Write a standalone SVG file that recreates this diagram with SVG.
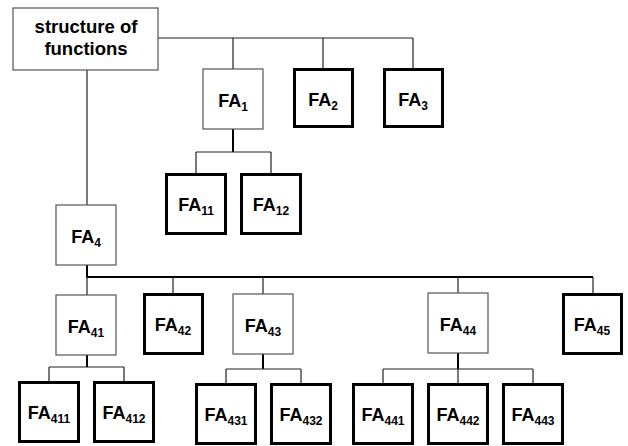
<svg xmlns="http://www.w3.org/2000/svg" width="628" height="446" viewBox="0 0 628 446">
<style>
.thin{fill:#fff;stroke:#555;stroke-width:1.2}
.thick{fill:#fff;stroke:#000;stroke-width:3}
.lbl{font-family:"Liberation Sans",Arial,sans-serif;font-weight:bold;font-size:18px;fill:#000;text-anchor:middle}
.sub{font-size:12px}
.root{font-family:"Liberation Sans",Arial,sans-serif;font-weight:bold;font-size:18.5px;fill:#000;text-anchor:middle}
.c{fill:none;stroke:#222;stroke-width:1.2}
.stem{fill:none;stroke:#000;stroke-width:2}
</style>
<rect width="628" height="446" fill="#fff"/>
<g id="connectors">
<path class="c" d="M158 38H413M233 38V69M323 38V68M413 38V68"/>
<path class="stem" d="M233 129V152"/>
<path class="c" d="M196 152H271M196 152V173M271 152V173"/>
<path class="c" d="M87 70V205"/>
<path class="stem" d="M87 265V277H593"/>
<path class="c" d="M87 277V295M173 277V293M263 277V294M458 277V293M593 277V293"/>
<path class="stem" d="M87 355V367"/>
<path class="c" d="M49 367H124M49 367V381M124 367V381"/>
<path class="stem" d="M263 354V369"/>
<path class="c" d="M226 369H301M226 369V383M301 369V383"/>
<path class="stem" d="M458 353V369"/>
<path class="c" d="M383 369H533M383 369V383M458 369V383M533 369V383"/>
</g>
<g id="root">
<rect class="thin" x="13" y="8" width="145" height="62"/>
<text class="root" x="86" y="33">structure of</text>
<text class="root" x="86" y="55">functions</text>
</g>
<g id="FA1"><rect class="thin" x="203" y="69" width="60" height="60"/><text class="lbl" x="233" y="107">FA<tspan class="sub" dy="4">1</tspan></text></g>
<g id="FA2"><rect class="thick" x="294.5" y="69.5" width="58" height="57"/><text class="lbl" x="323" y="106">FA<tspan class="sub" dy="4">2</tspan></text></g>
<g id="FA3"><rect class="thick" x="384.5" y="69.5" width="58" height="57"/><text class="lbl" x="413" y="106">FA<tspan class="sub" dy="4">3</tspan></text></g>
<g id="FA11"><rect class="thick" x="166.5" y="174.5" width="59" height="59"/><text class="lbl" x="196" y="211">FA<tspan class="sub" dy="4">11</tspan></text></g>
<g id="FA12"><rect class="thick" x="241.5" y="174.5" width="59" height="59"/><text class="lbl" x="271" y="211">FA<tspan class="sub" dy="4">12</tspan></text></g>
<g id="FA4"><rect class="thin" x="56" y="205" width="60" height="60"/><text class="lbl" x="86" y="243">FA<tspan class="sub" dy="4">4</tspan></text></g>
<g id="FA41"><rect class="thin" x="56" y="295" width="60" height="60"/><text class="lbl" x="86" y="333">FA<tspan class="sub" dy="4">41</tspan></text></g>
<g id="FA42"><rect class="thick" x="144.5" y="294.5" width="58" height="59"/><text class="lbl" x="173" y="331">FA<tspan class="sub" dy="4">42</tspan></text></g>
<g id="FA43"><rect class="thin" x="233" y="294" width="60" height="60"/><text class="lbl" x="263" y="332">FA<tspan class="sub" dy="4">43</tspan></text></g>
<g id="FA44"><rect class="thin" x="428" y="293" width="60" height="60"/><text class="lbl" x="458" y="331">FA<tspan class="sub" dy="4">44</tspan></text></g>
<g id="FA45"><rect class="thick" x="563.5" y="294.5" width="58" height="59"/><text class="lbl" x="592" y="331">FA<tspan class="sub" dy="4">45</tspan></text></g>
<g id="FA411"><rect class="thick" x="19.5" y="382.5" width="59" height="59"/><text class="lbl" x="49" y="419">FA<tspan class="sub" dy="4">411</tspan></text></g>
<g id="FA412"><rect class="thick" x="94.5" y="382.5" width="59" height="59"/><text class="lbl" x="124" y="419">FA<tspan class="sub" dy="4">412</tspan></text></g>
<g id="FA431"><rect class="thick" x="196.5" y="384.5" width="59" height="59"/><text class="lbl" x="226" y="421">FA<tspan class="sub" dy="4">431</tspan></text></g>
<g id="FA432"><rect class="thick" x="271.5" y="384.5" width="59" height="59"/><text class="lbl" x="301" y="421">FA<tspan class="sub" dy="4">432</tspan></text></g>
<g id="FA441"><rect class="thick" x="353.5" y="384.5" width="59" height="59"/><text class="lbl" x="383" y="421">FA<tspan class="sub" dy="4">441</tspan></text></g>
<g id="FA442"><rect class="thick" x="428.5" y="384.5" width="59" height="59"/><text class="lbl" x="458" y="421">FA<tspan class="sub" dy="4">442</tspan></text></g>
<g id="FA443"><rect class="thick" x="503.5" y="384.5" width="59" height="59"/><text class="lbl" x="533" y="421">FA<tspan class="sub" dy="4">443</tspan></text></g>
</svg>
